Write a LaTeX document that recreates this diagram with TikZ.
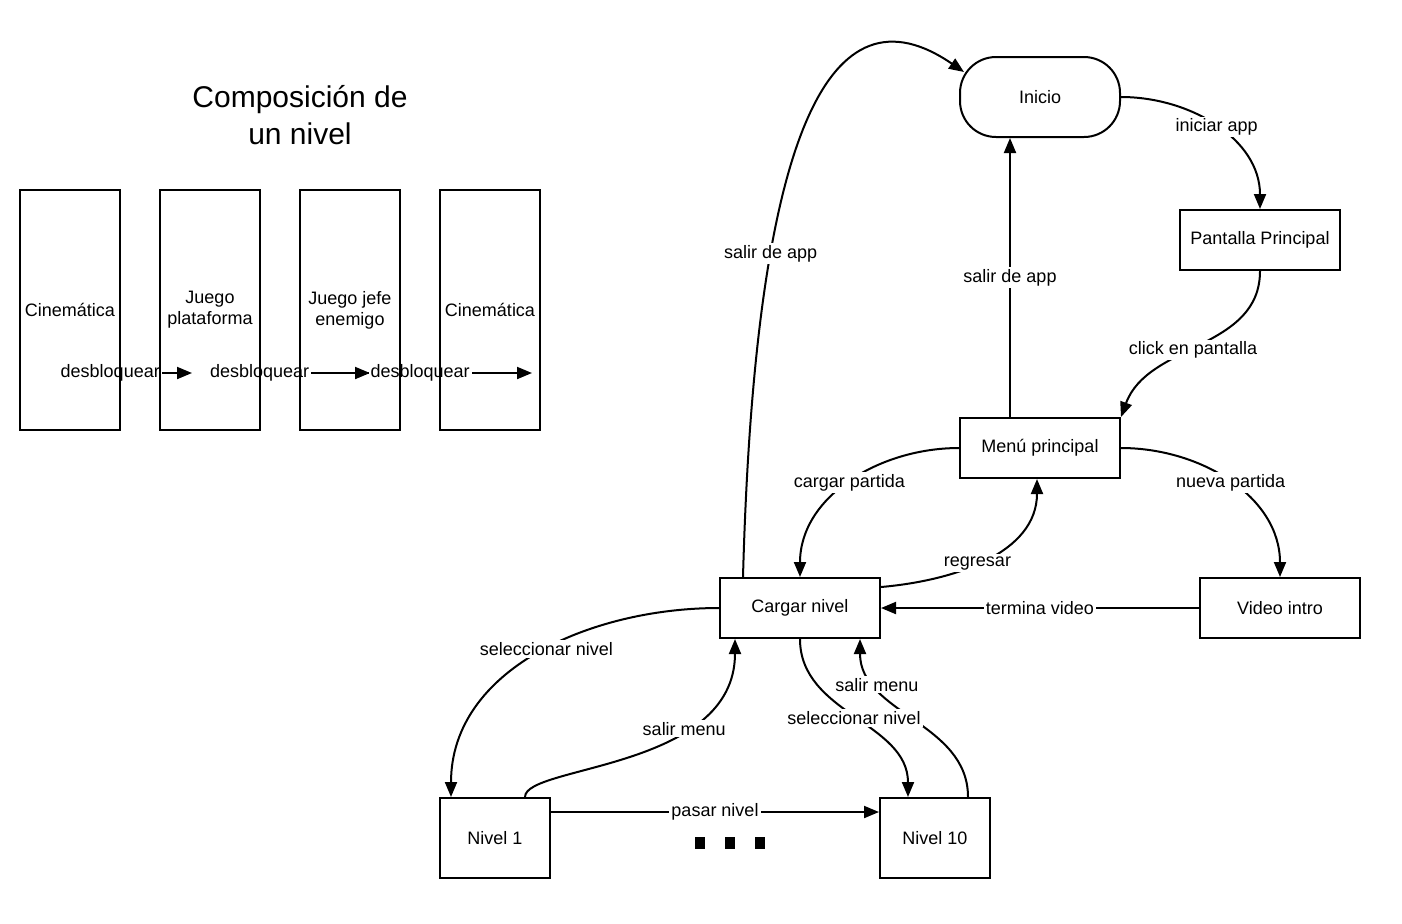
\documentclass[tikz,border=0pt]{standalone}
\usepackage{fontspec}
\setmainfont{Liberation Sans}
\usetikzlibrary{positioning,arrows.meta}

\begin{document}
\begin{tikzpicture}[x=0.5pt,y=-0.5pt,
		flow/.style={line width=1pt,-{Triangle[length=7.5pt,width=6pt]}},
		edgeLabel/.style={fill=white,inner sep=1pt,font=\fontsize{9}{10.5}\selectfont},
		stateBox/.style={draw,line width=1pt,minimum width=80pt,minimum height=30pt,
			inner sep=1pt,align=center,font=\fontsize{9}{10.5}\selectfont},
		stageBox/.style={stateBox,minimum width=50pt,minimum height=120pt},
		levelBox/.style={stateBox,minimum width=55pt,minimum height=40pt}]

		\useasboundingbox (0,0) rectangle (1402,923);

		% LEVEL COMPOSITION
		\node[align=center,font=\fontsize{15}{18.5}\selectfont] (title) at (300,115)
			{Composición de\\un nivel};

		% unlock arrows (drawn first, the boxes go over them)
		\foreach \s/\e/\p [count=\k] in {70/192/0.33, 210/370/0.31, 350/532/0.385}{
			\coordinate (unlockStart\k) at (\s,373);
			\coordinate (unlockEnd\k) at (\e,373);
			\draw[flow] (unlockStart\k) -- node[edgeLabel,pos=\p]{desbloquear} (unlockEnd\k);
		}

		\foreach \i/\txt in {1/{Cinemática}, 2/{Juego\\plataforma},
			3/{Juego jefe\\enemigo}, 4/{Cinemática}}{
			\node[stageBox] (stage\i) at ({70+140*(\i-1)},310) {\txt};
		}

		% APP FLOW
		\node[stateBox,minimum height=40pt,rounded corners=18pt] (inicio) at (1040,97) {Inicio};
		\node[stateBox] (pantalla) at (1260,240) {Pantalla Principal};
		\node[stateBox] (menu) at (1040,448) {Menú principal};
		\node[stateBox] (cargar) at (800,608) {Cargar nivel};
		\node[stateBox] (video) at (1280,608) {Video intro};

		% LEVELS
		\node[levelBox] (nivelA) at (495,838) {Nivel 1};
		\node[levelBox] (nivelB) at (935,838) {Nivel 10};
		\foreach \x in {700,730,760}{
			\fill (\x-5,837) rectangle (\x+5,849);
		}

		% Connectors
		\draw[flow] (inicio.east) to[out=0,in=90]
			node[edgeLabel]{iniciar app} (pantalla.north);
		\draw[flow] (pantalla.south) to[out=-90,in=70]
			node[edgeLabel,pos=0.54]{click en pantalla} (menu.north east);
		\draw[flow] ([xshift=-15pt]menu.north) --
			node[edgeLabel]{salir de app} ([xshift=-15pt]inicio.south);
		\draw[flow] ([xshift=-28.5pt]cargar.north) .. controls (755,130) and (830,-20) ..
			node[edgeLabel,pos=0.3]{salir de app} ([xshift=2.5pt,yshift=12.5pt]inicio.west);
		\draw[flow] (menu.west) to[out=180,in=90]
			node[edgeLabel]{cargar partida} (cargar.north);
		\draw[flow] ([yshift=10.5pt]cargar.east) to[out=5,in=-90]
			node[edgeLabel,pos=0.45]{regresar} ([xshift=-1.5pt]menu.south);
		\draw[flow] (menu.east) to[out=0,in=90]
			node[edgeLabel]{nueva partida} (video.north);
		\draw[flow] (video.west) --
			node[edgeLabel]{termina video} (cargar.east);

		\draw[flow] (cargar.west) to[out=180,in=90]
			node[edgeLabel,pos=0.47]{seleccionar nivel} ([xshift=6pt]nivelA.north west);
		\draw[flow] ([xshift=15pt]nivelA.north) .. controls (525,765) and (735,770) ..
			node[edgeLabel,pos=0.68]{salir menu} ([xshift=-32.5pt]cargar.south);
		\draw[flow] ([xshift=16.5pt]nivelB.north) to[out=90,in=-90]
			node[edgeLabel,pos=0.75]{salir menu} ([xshift=30pt]cargar.south);
		\draw[flow] (cargar.south) to[out=-90,in=90]
			node[edgeLabel]{seleccionar nivel} ([xshift=-13.5pt]nivelB.north);
		\draw[flow] ([yshift=13pt]nivelA.east) --
			node[edgeLabel]{pasar nivel} ([yshift=13pt]nivelB.west);

	\end{tikzpicture}
\end{document}
